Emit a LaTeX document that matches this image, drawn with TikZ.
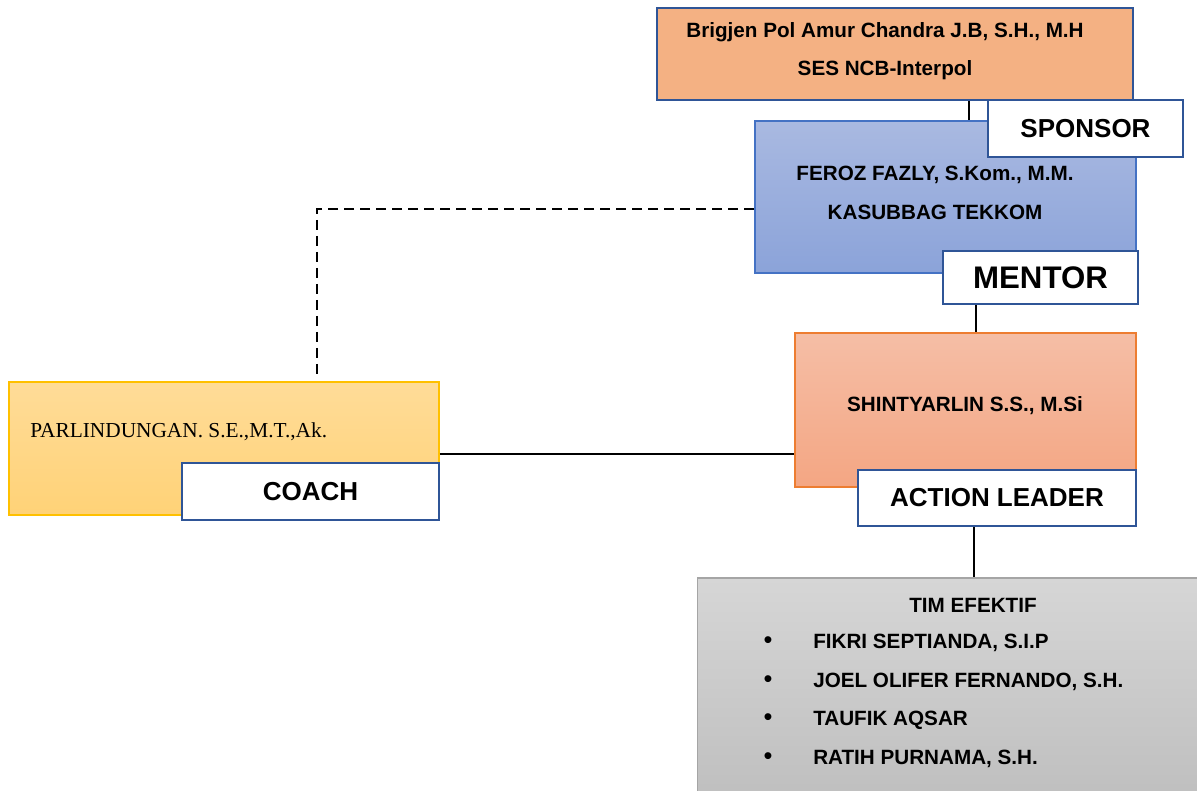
\documentclass[tikz,border=0pt]{standalone}
\usepackage{fontspec}
\setmainfont{Liberation Sans}
\newfontfamily\tnr{Liberation Serif}
\definecolor{topfill}{HTML}{F4B183}
\definecolor{darkborder}{HTML}{2F5597}
\definecolor{blueA}{HTML}{A9B9E1}
\definecolor{blueB}{HTML}{8BA3D9}
\definecolor{blueborder}{HTML}{4472C4}
\definecolor{orA}{HTML}{F5BEA6}
\definecolor{orB}{HTML}{F4A683}
\definecolor{orborder}{HTML}{ED7D31}
\definecolor{yeA}{HTML}{FFDC98}
\definecolor{yeB}{HTML}{FFD277}
\definecolor{yeborder}{HTML}{FFC000}
\definecolor{grA}{HTML}{D6D6D6}
\definecolor{grB}{HTML}{BFBFBF}
\definecolor{grborder}{HTML}{A5A5A5}
\tikzset{
  box/.style={rectangle, inner sep=0pt, line width=1.2pt},
  tag/.style={rectangle, inner sep=0pt, draw=darkborder, fill=white, line width=2pt,
    font=\bfseries\fontsize{19.5}{22}\selectfont},
  body/.style={inner sep=0pt, font=\bfseries\fontsize{15.5}{18}\selectfont},
  conn/.style={line width=1.6pt, black},
}
\begin{document}
\begin{tikzpicture}[x=0.75pt, y=-0.75pt]
\clip (0,0) rectangle (1197,790);
\fill[white] (0,0) rectangle (1197,790);

% boxes
\node[box, draw=darkborder, fill=topfill, line width=1.8pt, minimum width=357pt, minimum height=69pt] (top) at (895,54) {};
\node[box, draw=blueborder, top color=blueA, bottom color=blueB, minimum width=285.75pt, minimum height=114pt] (blue) at (945.5,197) {};
\node[box, draw=orborder, top color=orA, bottom color=orB, minimum width=255.75pt, minimum height=115.5pt] (orange) at (965.5,410) {};
\node[box, draw=yeborder, top color=yeA, bottom color=yeB, minimum width=322.5pt, minimum height=99.75pt] (yellow) at (224,448.5) {};
\node[box, draw=grborder, top color=grA, bottom color=grB, minimum width=378pt, minimum height=165pt] (grey) at (949.5,688) {};

% connectors
\draw[conn] (969,0 |- top.south) -- (969,0 |- blue.north);
\coordinate (dend) at (317,378);
\draw[conn, dash pattern=on 7.5pt off 4.5pt] (blue.west |- 0,209) -- (317,209) -- (dend);
\draw[conn] (yellow.east |- 0,454) -- (orange.west |- 0,454);

% tags
\node[tag, minimum width=146.25pt, minimum height=42.75pt] (sponsor) at (1085.5,128.5) {SPONSOR};
\node[tag, minimum width=146.25pt, minimum height=39.75pt, font=\bfseries\fontsize{23.4}{26}\selectfont] (mentor) at (1040.5,277.5) {MENTOR};
\node[tag, minimum width=208.5pt, minimum height=42pt] (action) at (997,498) {ACTION LEADER};
\node[tag, minimum width=192.75pt, minimum height=42.75pt] (coach) at (310.5,491.5) {COACH};

\draw[conn] (976,0 |- mentor.south) -- (976,0 |- orange.north);
\draw[conn] (974,0 |- action.south) -- (974,0 |- grey.north);

% texts
\node[body] (t1) at (885,32) {Brigjen Pol Amur Chandra J.B, S.H., M.H};
\node[body] (t2) at (885,70) {SES NCB-Interpol};
\node[body] (b1) at (935,175) {FEROZ FAZLY, S.Kom., M.M.};
\node[body] (b2) at (935,212) {KASUBBAG TEKKOM};
\node[body] (o1) at (965,406) {SHINTYARLIN S.S., M.Si};
\node[inner sep=0pt, anchor=west, font=\tnr\fontsize{16}{18}\selectfont] (y1) at (30,432) {PARLINDUNGAN. S.E.,M.T.,Ak.};
\node[body] (g0) at (973,605) {TIM EFEKTIF};
\foreach \yy/\txt [count=\i] in {643/{FIKRI SEPTIANDA, S.I.P}, 682/{JOEL OLIFER FERNANDO, S.H.}, 720/{TAUFIK AQSAR}, 759/{RATIH PURNAMA, S.H.}}{
  \node[inner sep=0pt, font=\fontsize{19}{20}\selectfont] (bul\i) at (768,\yy) {\textbullet};
  \node[body, anchor=west] (item\i) at (813,\yy) {\txt};
}
\end{tikzpicture}
\end{document}
